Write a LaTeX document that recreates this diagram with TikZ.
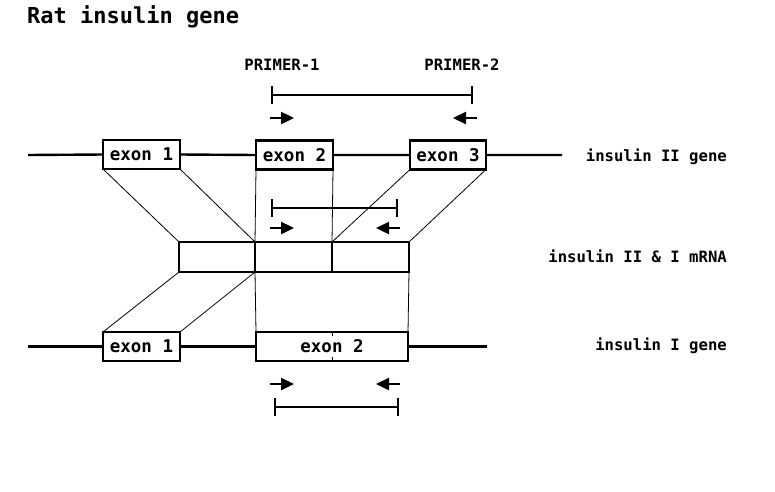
\documentclass[tikz,border=0pt]{standalone}
\usepackage{fontspec}
\setmonofont{DejaVu Sans Mono}
\usetikzlibrary{arrows.meta}
\begin{document}
\begin{tikzpicture}[x=1pt,y=-1pt,
  exonbox/.style={draw, line width=2.2pt, minimum height=29pt, inner sep=0pt, outer sep=0pt,
    font=\ttfamily\bfseries\fontsize{17.5}{17.5}\selectfont},
  mbox/.style={draw, line width=2.2pt, minimum height=30pt, inner sep=0pt, outer sep=0pt},
  gline/.style={line width=2.4pt},
  connline/.style={line width=0.8pt},
  primer/.style={line width=2.4pt, -{Triangle[length=13pt,width=12pt]}},
  bracket/.style={line width=2.2pt, {Bar[width=18pt]}-{Bar[width=18pt]}},
  lbl/.style={font=\ttfamily\bfseries\fontsize{15.6}{15.6}\selectfont, inner sep=0pt},
  ]
\useasboundingbox (0,0) rectangle (775,491);
% title
\node[anchor=base west, inner sep=0pt, font=\ttfamily\bfseries\fontsize{22}{22}\selectfont] (title) at (27,23) {Rat insulin gene};
% primer labels
\node[lbl] (pr1) at (282,65) {PRIMER-1};
\node[lbl] (pr2) at (462,65) {PRIMER-2};
% insulin II gene
\node[exonbox, minimum width=77pt] (e1) at (141.5,154.5) {exon 1};
\node[exonbox, minimum width=77pt] (e2) at (294.5,155) {exon 2};
\node[exonbox, minimum width=76pt] (e3) at (448,155) {exon 3};
\coordinate (gl1) at (28,155);
\coordinate (gr1) at (562,155);
\draw[gline] (gl1) -- (e1.west) (e1.east) -- (e2.west) (e2.east) -- (e3.west) (e3.east) -- (gr1);
% mRNA
\node[mbox, minimum width=76pt] (m1) at (217,257) {};
\node[mbox, minimum width=77pt] (m2) at (293.5,257) {};
\node[mbox, minimum width=77pt] (m3) at (370.5,257) {};
% insulin I gene
\node[exonbox, minimum width=77pt] (b1) at (141.5,346.5) {exon 1};
\node[exonbox, minimum width=152pt] (b2) at (332,346.5) {exon 2};
\coordinate (gl2) at (28,346.5);
\coordinate (gr2) at (487,346.5);
\draw[gline] (gl2) -- (b1.west) (b1.east) -- (b2.west) (b2.east) -- (gr2);
% connectors
\draw[connline] (e1.south west) -- (m1.north west)
            (e1.south east) -- (m1.north east)
            (e2.south west) -- (m2.north west)
            (e2.south east) -- (m2.north east)
            (e3.south west) -- (m3.north west)
            (e3.south east) -- (m3.north east);
\draw[connline] (m1.south west) -- (b1.north west)
            (m1.south east) -- (b1.north east)
            (m2.south west) -- (b2.north west)
            (m3.south east) -- (b2.north east);
\draw[connline] (b2.north) -- ++(0,4) (b2.south) -- ++(0,-4);
% right labels
\node[lbl, anchor=east] (l1) at (727,157) {insulin II gene};
\node[lbl, anchor=east] (l2) at (727,256) {insulin II \& I mRNA};
\node[lbl, anchor=east] (l3) at (727,346) {insulin I gene};
% top primers
\coordinate (t1a) at (270.5,95); \coordinate (t1b) at (473,95);
\draw[bracket] (t1a) -- (t1b);
\coordinate (a1s) at (270,118); \coordinate (a1e) at (294,118);
\coordinate (a2s) at (477,118); \coordinate (a2e) at (453,118);
\draw[primer] (a1s) -- (a1e);
\draw[primer] (a2s) -- (a2e);
% middle primers
\coordinate (t2a) at (271,208); \coordinate (t2b) at (398,208);
\draw[bracket] (t2a) -- (t2b);
\coordinate (a3s) at (270,228); \coordinate (a3e) at (294,228);
\coordinate (a4s) at (400,228); \coordinate (a4e) at (376,228);
\draw[primer] (a3s) -- (a3e);
\draw[primer] (a4s) -- (a4e);
% bottom primers
\coordinate (a5s) at (270,384); \coordinate (a5e) at (294,384);
\coordinate (a6s) at (400,384); \coordinate (a6e) at (376,384);
\draw[primer] (a5s) -- (a5e);
\draw[primer] (a6s) -- (a6e);
\coordinate (t3a) at (274,407); \coordinate (t3b) at (399,407);
\draw[bracket] (t3a) -- (t3b);
\end{tikzpicture}
\end{document}
